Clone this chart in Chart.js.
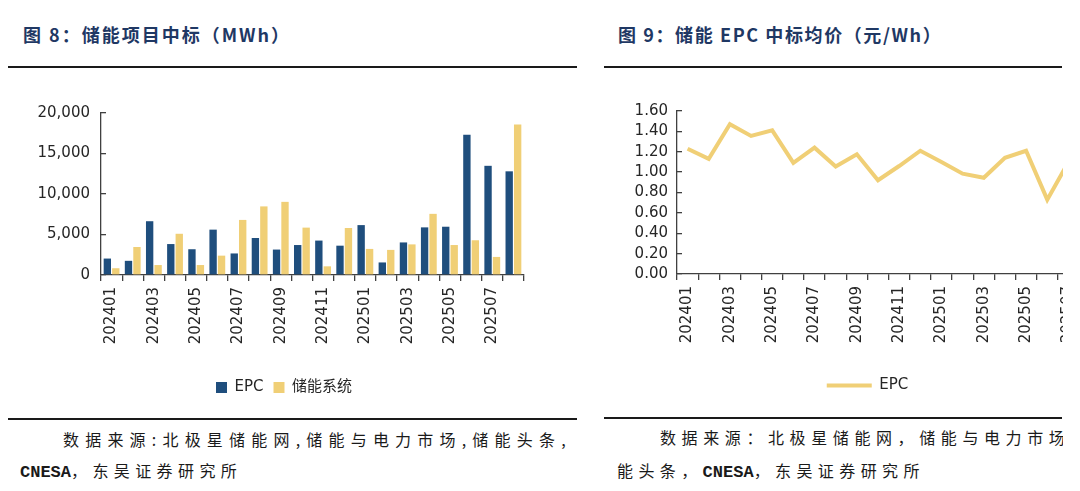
<!DOCTYPE html>
<html lang="zh-CN">
<head>
<meta charset="utf-8">
<title>储能项目中标</title>
<script src="https://cdn.jsdelivr.net/npm/chart.js@4.4.1/dist/chart.umd.min.js"></script>
<style>
  html, body { margin: 0; padding: 0; background: #fff; }
  body { width: 1080px; height: 491px; position: relative; overflow: hidden; font-family: "Noto Sans CJK SC", sans-serif; }
  .panel { position: absolute; top: 0; height: 491px; overflow: hidden; }
  #left { left: 0; width: 600px; }
  #right { left: 604px; width: 459px; }
  .title { position: absolute; top: 21px; font-size: 18px; line-height: 26px; font-weight: bold; color: #1f3864; letter-spacing: 1.6px; white-space: nowrap; }
  .rule { position: absolute; height: 2px; background: #1a1a1a; }
  .src { position: absolute; font-size: 16px; line-height: 20px; color: #1a1a1a; letter-spacing: 5.4px; white-space: nowrap; }
  .src b { letter-spacing: 0; font-family: "Liberation Mono", monospace; font-weight: bold; font-size: 17px; }
  canvas { position: absolute; }
</style>
</head>
<body>

<div class="panel" id="left">
  <div class="title" style="left:23px; letter-spacing:2px">图 8：储能项目中标（MWh）</div>
  <div class="rule" style="left:8px; top:66px; width:569px"></div>
  <canvas id="countChart" width="560" height="317" style="left:0; top:88px; width:560px; height:317px"></canvas>
  <div class="rule" style="left:8px; top:418px; width:569px"></div>
  <div class="src" style="left:63px; top:429px; letter-spacing:6.2px">数据来源:北极星储能网,储能与电力市场,储能头条,</div>
  <div class="src" style="left:20px; top:460px"><b>CNESA</b>，东吴证券研究所</div>
</div>

<div class="panel" id="right">
  <div class="title" style="left:14px">图 9：储能 EPC 中标均价（元/Wh）</div>
  <div class="rule" style="left:0; top:66px; width:458px"></div>
  <canvas id="priceChart" width="490" height="315" style="left:0; top:88px; width:490px; height:315px"></canvas>
  <div class="rule" style="left:0; top:417px; width:458px"></div>
  <div class="src" style="left:56px; top:427px; letter-spacing:5.6px">数据来源：北极星储能网，储能与电力市场，储</div>
  <div class="src" style="left:13px; top:460px">能头条，<b>CNESA</b>，东吴证券研究所</div>
</div>

<script>
// 数据：储能项目中标量（MWh）
const months = ['202401', '202402', '202403', '202404', '202405', '202406', '202407', '202408', '202409', '202410',
                '202411', '202412', '202501', '202502', '202503', '202504', '202505', '202506', '202507', '202508'];
const epcMWh = [2030, 1750, 6640, 3820, 3180, 5600, 2660, 4570, 3140, 3700,
                4250, 3620, 6160, 1550, 4020, 5880, 5960, 17300, 13480, 12800];
const systemMWh = [835, 3460, 1230, 5090, 1230, 2390, 6800, 8470, 9030, 5850,
                   1070, 5800, 3220, 3100, 3780, 7550, 3700, 4290, 2230, 18570];
const countTicks = [0, 5000, 10000, 15000, 20000];

// 数据：储能 EPC 中标均价（元/Wh）
const priceMonths = ['202401', '202402', '202403', '202404', '202405', '202406', '202407', '202408', '202409', '202410',
                     '202411', '202412', '202501', '202502', '202503', '202504', '202505', '202506', '202507'];
const epcPrice = [1.23, 1.13, 1.47, 1.355, 1.41, 1.09, 1.24, 1.055, 1.175, 0.92,
                  1.06, 1.21, 1.10, 0.985, 0.945, 1.14, 1.21, 0.73, 1.10];
const priceTicks = [0, 0.2, 0.4, 0.6, 0.8, 1.0, 1.2, 1.4, 1.6];

const epcColor = '#1f4e7d';
const systemColor = '#f0cf76';
const axisColor = '#404040';
const textColor = '#262626';
const tickFont = { family: '"DejaVu Sans", "Noto Sans CJK SC", sans-serif', size: 15 };

Chart.defaults.animation = false;
Chart.defaults.font.family = tickFont.family;
Chart.defaults.color = textColor;

// 图例水平平移，让它落在原图的位置
const legendShift = {
    id: 'legendShift',
    afterLayout(chart, args, opts) {
        const legend = chart.legend;
        if (legend && opts.x) {
            legend.left += opts.x;
            legend.right += opts.x;
        }
    }
};

// 隔一个月显示一次标签
function everyOtherLabel(value, index) {
    return index % 2 === 0 ? this.getLabelForValue(value) : '';
}

function xAxis(height) {
    return {
        afterFit: s => { s.height = height; },
        border: { color: axisColor, width: 1.3 },
        grid: { drawOnChartArea: false, offset: true, tickLength: 6, color: axisColor, lineWidth: 1.3 },
        ticks: { autoSkip: false, minRotation: 90, maxRotation: 90, padding: 6, color: textColor, font: tickFont, callback: everyOtherLabel }
    };
}

function yAxis(tickValues, width, padding, format) {
    return {
        min: tickValues[0],
        max: tickValues[tickValues.length - 1],
        afterBuildTicks: s => { s.ticks = tickValues.map(v => ({ value: v })); },
        afterFit: s => { s.width = width; },
        border: { color: axisColor, width: 1.3 },
        // 刻度线朝内
        grid: { drawOnChartArea: false, tickLength: -5, color: axisColor, lineWidth: 1.3 },
        ticks: { autoSkip: false, padding: padding, color: textColor, font: tickFont, callback: format }
    };
}

// 图 8：柱状图
new Chart(document.getElementById('countChart'), {
    type: 'bar',
    data: {
        labels: months,
        datasets: [{
            label: 'EPC',
            data: epcMWh,
            backgroundColor: epcColor,
            barPercentage: 0.87,
            categoryPercentage: 0.8
        }, {
            label: '储能系统',
            data: systemMWh,
            backgroundColor: systemColor,
            barPercentage: 0.87,
            categoryPercentage: 0.8
        }]
    },
    options: {
        responsive: false,
        layout: { padding: { left: 0, right: 36, top: 20, bottom: 0 } },
        plugins: {
            legend: {
                position: 'bottom',
                labels: { boxWidth: 11, boxHeight: 11, padding: 10, color: textColor, font: tickFont }
            },
            legendShift: { x: 22 },
            tooltip: { enabled: false }
        },
        scales: {
            x: xAxis(95),
            y: yAxis(countTicks, 101, 16, v => v.toLocaleString('en-US'))
        }
    },
    plugins: [legendShift]
});

// 图 9：折线图
new Chart(document.getElementById('priceChart'), {
    type: 'line',
    data: {
        labels: priceMonths,
        datasets: [{
            label: 'EPC',
            data: epcPrice,
            borderColor: systemColor,
            backgroundColor: systemColor,
            borderWidth: 4,
            pointRadius: 0,
            tension: 0,
            fill: false
        }]
    },
    options: {
        responsive: false,
        layout: { padding: { left: 0, right: 15, top: 23, bottom: 0 } },
        plugins: {
            legend: {
                position: 'bottom',
                labels: {
                    boxWidth: 45, boxHeight: 4, padding: 10, color: textColor, font: tickFont,
                    generateLabels: chart => Chart.defaults.plugins.legend.labels.generateLabels(chart)
                        .map(item => Object.assign(item, { lineWidth: 0, fillStyle: systemColor }))
                }
            },
            legendShift: { x: 26 },
            tooltip: { enabled: false }
        },
        scales: {
            x: Object.assign(xAxis(94), { offset: true }),
            y: yAxis(priceTicks, 73, 14, v => v.toFixed(2))
        }
    },
    plugins: [legendShift]
});
</script>
</body>
</html>
